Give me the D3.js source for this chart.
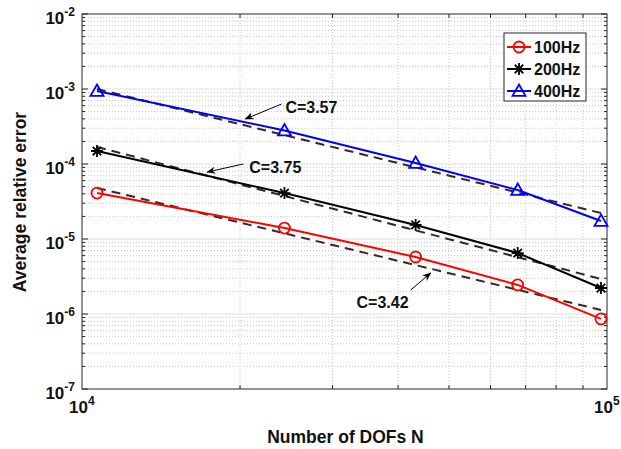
<!DOCTYPE html>
<html>
<head>
<meta charset="utf-8">
<script src="https://cdn.jsdelivr.net/npm/d3@7"></script>
<style>
  body { margin: 0; background: #fff; }
  text { font-family: "Liberation Sans", Arial, sans-serif; font-weight: bold; fill: #111; }
</style>
</head>
<body>
<div id="chart"></div>
<script>
// data
var dofs = [10680, 24300, 43200, 67600, 97400];
var err100 = [4.1e-5, 1.40e-5, 5.75e-6, 2.44e-6, 8.6e-7];
var err200 = [1.49e-4, 4.1e-5, 1.54e-5, 6.5e-6, 2.22e-6];
var err400 = [9.4e-4, 2.8e-4, 1.03e-4, 4.5e-5, 1.74e-5];

// dashed reference lines (values at first and last N)
var fitN = [10680, 97400];
var fit100 = [4.8e-5, 1.13e-6];
var fit200 = [1.69e-4, 2.93e-6];
var fit400 = [1.0e-3, 2.22e-5];

var seriesNames = ["100Hz", "200Hz", "400Hz"];
var xTicks = [1e4, 1e5];
var yTicks = [1e-7, 1e-6, 1e-5, 1e-4, 1e-3, 1e-2];

// annotations: label, text position, arrow start, arrow end (data units)
var notes = [
  {label: "C=3.57", tx: 27350, ty: 5.75e-4, x1: 23980, y1: 6.3e-4, x2: 20470, y2: 3.98e-4},
  {label: "C=3.75", tx: 23350, ty: 9.12e-5, x1: 20290, y1: 1.0e-4, x2: 17320, y2: 7.82e-5},
  {label: "C=3.42", tx: 37360, ty: 1.445e-6, x1: 42270, y1: 2.09e-6, x2: 46130, y2: 3.52e-6}
];

var margin = {top: 14, right: 14, bottom: 60, left: 82},
    width = 621 - margin.left - margin.right,
    height = 449 - margin.top - margin.bottom;

var svg = d3.select("#chart")
  .append("svg")
    .attr("width", width + margin.left + margin.right)
    .attr("height", height + margin.top + margin.bottom);

var g = svg.append("g")
    .attr("transform", "translate(" + margin.left + "," + margin.top + ")");

var x = d3.scaleLog().domain([1e4, 1e5]).range([0, width]);
var y = d3.scaleLog().domain([1e-7, 1e-2]).range([height, 0]);

// grid
var xMinor = d3.range(2, 10).map(function(k) { return k * 1e4; });
var yMinor = [];
d3.range(-7, -2).forEach(function(p) {
  d3.range(2, 10).forEach(function(k) { yMinor.push(k * Math.pow(10, p)); });
});

g.selectAll(".xminor").data(xMinor).enter().append("line")
  .attr("x1", function(d) { return x(d); }).attr("x2", function(d) { return x(d); })
  .attr("y1", 0).attr("y2", height)
  .attr("stroke", "#c8c8c8").attr("stroke-dasharray", "1,2");

g.selectAll(".yminor").data(yMinor).enter().append("line")
  .attr("x1", 0).attr("x2", width)
  .attr("y1", function(d) { return y(d); }).attr("y2", function(d) { return y(d); })
  .attr("stroke", "#c8c8c8").attr("stroke-dasharray", "1,2");

g.selectAll(".ymajor").data(yTicks.slice(1, -1)).enter().append("line")
  .attr("x1", 0).attr("x2", width)
  .attr("y1", function(d) { return y(d); }).attr("y2", function(d) { return y(d); })
  .attr("stroke", "#dedede").attr("stroke-width", 1);

// tick marks (inside, all four sides)
var tickCol = "#262626";
xMinor.forEach(function(d) {
  g.append("line").attr("x1", x(d)).attr("x2", x(d)).attr("y1", height).attr("y2", height - 4).attr("stroke", tickCol);
  g.append("line").attr("x1", x(d)).attr("x2", x(d)).attr("y1", 0).attr("y2", 4).attr("stroke", tickCol);
});
yMinor.forEach(function(d) {
  g.append("line").attr("x1", 0).attr("x2", 3).attr("y1", y(d)).attr("y2", y(d)).attr("stroke", tickCol);
  g.append("line").attr("x1", width).attr("x2", width - 3).attr("y1", y(d)).attr("y2", y(d)).attr("stroke", tickCol);
});
yTicks.forEach(function(d) {
  g.append("line").attr("x1", 0).attr("x2", 6).attr("y1", y(d)).attr("y2", y(d)).attr("stroke", tickCol);
  g.append("line").attr("x1", width).attr("x2", width - 6).attr("y1", y(d)).attr("y2", y(d)).attr("stroke", tickCol);
});

// box
g.append("rect").attr("x", 0).attr("y", 0).attr("width", width).attr("height", height)
  .attr("fill", "none").attr("stroke", tickCol).attr("stroke-width", 1);

// tick labels
function expLabel(sel, d) {
  var p = Math.round(Math.log10(d));
  sel.append("tspan").text("10");
  sel.append("tspan").attr("dy", -8).style("font-size", "12px").text(p);
}
yTicks.forEach(function(d) {
  var t = g.append("text").attr("x", -7).attr("y", y(d) + 10)
    .attr("text-anchor", "end").style("font-size", "17px");
  expLabel(t, d);
});
xTicks.forEach(function(d) {
  var t = g.append("text").attr("x", x(d) - 13).attr("y", height + 24)
    .attr("text-anchor", "start").style("font-size", "17px");
  expLabel(t, d);
});

// axis titles
g.append("text")
  .attr("x", width / 2 + 1).attr("y", height + 54)
  .attr("text-anchor", "middle").style("font-size", "17.5px")
  .text("Number of DOFs N");
g.append("text")
  .attr("transform", "rotate(-90)")
  .attr("x", -(202 - margin.top)).attr("y", -56)
  .attr("text-anchor", "middle").style("font-size", "17.5px")
  .text("Average relative error");

// dashed reference lines
var line = d3.line().x(function(d) { return x(d[0]); }).y(function(d) { return y(d[1]); });
[fit100, fit200, fit400].forEach(function(f) {
  g.append("path")
    .datum(d3.zip(fitN, f))
    .attr("d", line)
    .attr("fill", "none").attr("stroke", "#3b2626")
    .attr("stroke-width", 2).attr("stroke-dasharray", "9,6");
});

// data series
var colors = ["#ff0000", "#000000", "#0000ff"];
var series = [err100, err200, err400];
var shapes = ["circle", "star", "triangle"];

function drawMarker(sel, shape, cx, cy, col) {
  if (shape === "circle") {
    sel.append("circle").attr("cx", cx).attr("cy", cy).attr("r", 5.5)
      .attr("fill", "none").attr("stroke", col).attr("stroke-width", 1.8);
  } else if (shape === "triangle") {
    var s = 6.5;
    sel.append("path")
      .attr("d", "M" + cx + "," + (cy - s) + "L" + (cx + s) + "," + (cy + s * 0.75) + "L" + (cx - s) + "," + (cy + s * 0.75) + "Z")
      .attr("fill", "none").attr("stroke", col).attr("stroke-width", 1.8);
  } else {
    var r = 6;
    var d = "";
    [0, 45, 90, 135].forEach(function(a) {
      var rad = a * Math.PI / 180;
      d += "M" + (cx - r * Math.cos(rad)) + "," + (cy - r * Math.sin(rad)) +
           "L" + (cx + r * Math.cos(rad)) + "," + (cy + r * Math.sin(rad));
    });
    sel.append("path").attr("d", d).attr("stroke", col).attr("stroke-width", 1.8);
  }
}

series.forEach(function(s, i) {
  var pts = d3.zip(dofs, s);
  g.append("path").datum(pts).attr("d", line)
    .attr("fill", "none").attr("stroke", colors[i]).attr("stroke-width", 2);
  pts.forEach(function(p) { drawMarker(g, shapes[i], x(p[0]), y(p[1]), colors[i]); });
});

// annotations
svg.append("defs").append("marker")
  .attr("id", "ah").attr("viewBox", "0 0 10 10").attr("refX", 9).attr("refY", 5)
  .attr("markerWidth", 9).attr("markerHeight", 9).attr("orient", "auto")
  .attr("markerUnits", "userSpaceOnUse")
  .append("path").attr("d", "M0,1L10,5L0,9L3,5Z").attr("fill", "#000");

notes.forEach(function(n) {
  g.append("line")
    .attr("x1", x(n.x1)).attr("y1", y(n.y1)).attr("x2", x(n.x2)).attr("y2", y(n.y2))
    .attr("stroke", "#000").attr("stroke-width", 1).attr("marker-end", "url(#ah)");
  g.append("text").attr("x", x(n.tx)).attr("y", y(n.ty)).attr("dy", "0.36em")
    .attr("text-anchor", "middle").style("font-size", "16px").text(n.label);
});

// legend
var lg = svg.append("g").attr("transform", "translate(504,33)");
lg.append("rect").attr("width", 82).attr("height", 68)
  .attr("fill", "#fff").attr("stroke", "#262626").attr("stroke-width", 1);
seriesNames.forEach(function(name, i) {
  var cy = 14 + i * 22;
  lg.append("line").attr("x1", 3).attr("x2", 27).attr("y1", cy).attr("y2", cy)
    .attr("stroke", colors[i]).attr("stroke-width", 2);
  drawMarker(lg, shapes[i], 15, cy, colors[i]);
  lg.append("text").attr("x", 30).attr("y", cy).attr("dy", "0.36em")
    .style("font-size", "16px").text(name);
});
</script>
</body>
</html>
